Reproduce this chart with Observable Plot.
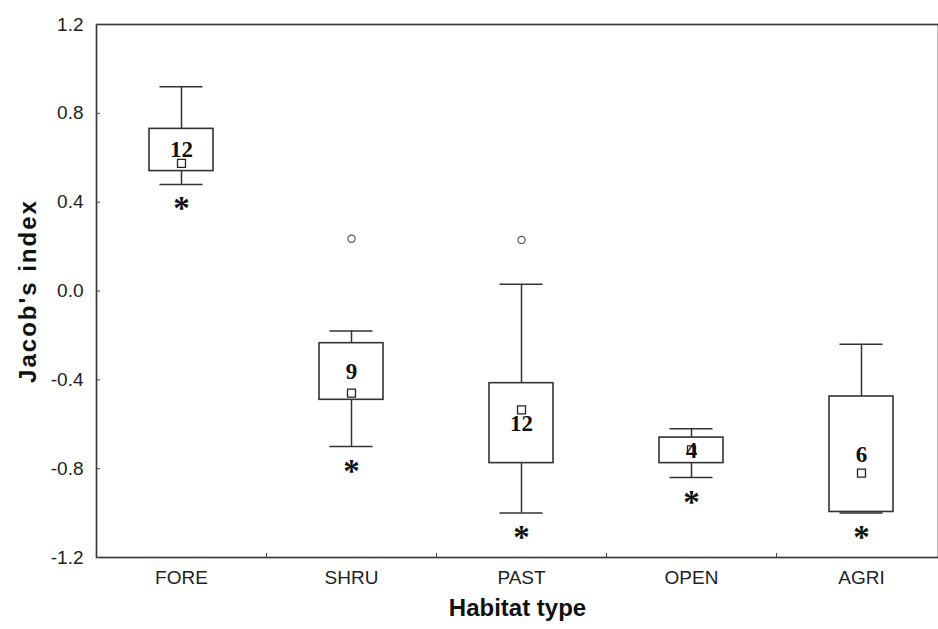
<!DOCTYPE html>
<html>
<head>
<meta charset="utf-8">
<script src="https://cdn.jsdelivr.net/npm/d3@7"></script>
<script src="https://cdn.jsdelivr.net/npm/@observablehq/plot@0.6"></script>
<style>
  html, body { margin: 0; padding: 0; background: white; overflow: hidden; }
  #chart svg { display: block; }
</style>
</head>
<body>
<div id="chart"></div>
<script>
// Habitat categories and sample sizes
const categories = ["FORE", "SHRU", "PAST", "OPEN", "AGRI"];
const counts = [12, 9, 12, 4, 6];
// Box-plot statistics (Jacob's index)
const whiskerHigh = [0.92, -0.18, 0.03, -0.62, -0.24];
const boxHigh = [0.73, -0.235, -0.415, -0.66, -0.475];
const means = [0.575, -0.46, -0.535, -0.715, -0.82];
const boxLow = [0.54, -0.49, -0.775, -0.775, -0.995];
const whiskerLow = [0.48, -0.70, -1.0, -0.84, -1.0];
// Outliers
const outlierCategories = ["SHRU", "PAST"];
const outlierValues = [0.235, 0.23];
// Axis ticks
const yTicks = [1.2, 0.8, 0.4, 0.0, -0.4, -0.8, -1.2];

const rows = categories.map((c, i) => ({
  cat: c, n: counts[i], wHi: whiskerHigh[i], bHi: boxHigh[i],
  mean: means[i], bLo: boxLow[i], wLo: whiskerLow[i]
}));
const outliers = outlierCategories.map((c, i) => ({cat: c, v: outlierValues[i]}));

const W = 938, H = 629;
const left = 96, right = 946; // right frame edge falls just outside the image
const bw = (right - left) / categories.length;
const ink = "#333";
const serif = "'Liberation Serif', 'Times New Roman', serif";

const chart = Plot.plot({
  width: W,
  height: H,
  marginTop: 24,
  marginBottom: 72,
  marginLeft: left,
  marginRight: 0,
  style: {fontFamily: "'Liberation Sans', Arial, sans-serif", color: "#222", background: "white"},
  x: {domain: categories, range: [left, right], padding: 0, label: null},
  y: {domain: [-1.2, 1.2], label: null},
  marks: [
    Plot.frame({stroke: "#3a3a3a", strokeWidth: 1.7}),
    Plot.axisY({ticks: yTicks, tickSize: -4, tickPadding: 17, tickFormat: d => d.toFixed(1), fontSize: 19, label: null, stroke: "#444"}),
    Plot.axisX({tickSize: 0, tickPadding: 13, fontSize: 19, label: null}),
    Plot.ruleX(categories.slice(1), {x: d => d, dx: -bw / 2, y1: -1.2, y2: -1.182, stroke: "#444"}),
    // whiskers
    Plot.ruleX(rows, {x: "cat", y1: "wLo", y2: "bLo", stroke: ink, strokeWidth: 1.5}),
    Plot.ruleX(rows, {x: "cat", y1: "bHi", y2: "wHi", stroke: ink, strokeWidth: 1.5}),
    Plot.tickY(rows, {x: "cat", y: "wHi", inset: (bw - 43) / 2, stroke: ink, strokeWidth: 1.5}),
    Plot.tickY(rows, {x: "cat", y: "wLo", inset: (bw - 43) / 2, stroke: ink, strokeWidth: 1.5}),
    // boxes
    Plot.barY(rows, {x: "cat", y1: "bLo", y2: "bHi", insetLeft: (bw - 64) / 2, insetRight: (bw - 64) / 2, fill: "white", stroke: ink, strokeWidth: 1.6}),
    // means
    Plot.dot(rows, {x: "cat", y: "mean", symbol: "square", r: 4.5, fill: "white", stroke: "#222", strokeWidth: 1.3}),
    // sample sizes
    Plot.text(rows, {x: "cat", y: d => (d.bLo + d.bHi) / 2, text: d => String(d.n), fontFamily: serif, fontWeight: "bold", fontSize: 23, fill: "#111"}),
    // outliers
    Plot.dot(outliers, {x: "cat", y: "v", r: 3.6, fill: "none", stroke: "#555", strokeWidth: 1.2}),
    // significance asterisks
    Plot.text(rows, {x: "cat", y: "wLo", text: () => "*", dy: 24.5, fontFamily: serif, fontWeight: "bold", fontSize: 33, fill: "#111"}),
    // axis titles
    Plot.text(["Habitat type"], {frameAnchor: "bottom", dy: 58, fontSize: 24, fontWeight: "bold", fill: "#111"}),
    Plot.text(["Jacob's index"], {frameAnchor: "left", textAnchor: "middle", dx: -68, rotate: -90, fontSize: 24, fontWeight: "bold", fill: "#111"})
  ]
});
// the vertical title is drawn with wider letter spacing in the reference
d3.select(chart).selectAll("text").filter(function() { return this.textContent === "Jacob's index"; })
  .attr("letter-spacing", 2);
document.getElementById("chart").appendChild(chart);
</script>
</body>
</html>
